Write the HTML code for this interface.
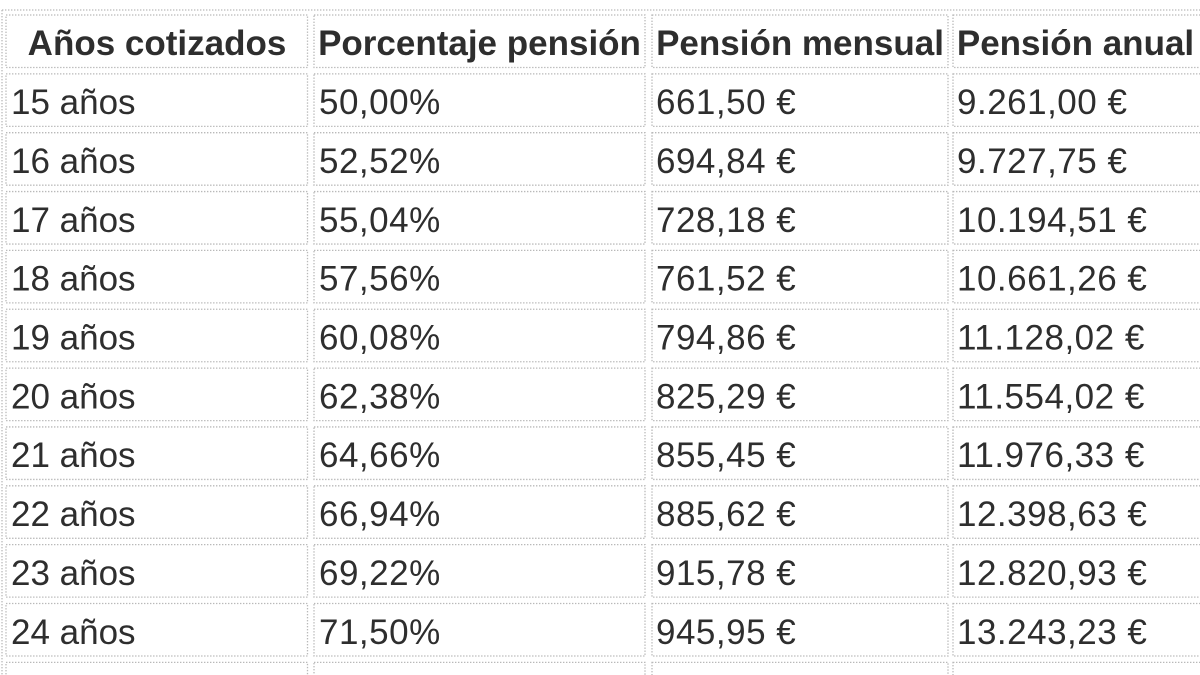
<!DOCTYPE html>
<html><head><meta charset="utf-8"><style>
html,body{margin:0;padding:0;background:#fff;width:1200px;height:675px;overflow:hidden}
svg{display:block;overflow:hidden}
text{font-family:"Liberation Sans",Arial,sans-serif;font-size:35px;fill:#2e2e2e}
.d text{letter-spacing:0.5px}
.d text.c1{letter-spacing:0}
.h{font-weight:bold;text-anchor:middle}
rect,line{fill:none;stroke:#b9b9b9;stroke-width:1.3;stroke-dasharray:1.4 1.6}
</style></head><body>
<svg width="1200" height="675" viewBox="0 0 1200 675" xmlns="http://www.w3.org/2000/svg">
<defs>
<g id="cells">
<rect x="6" y="0" width="301.5" height="52.5"/>
<rect x="314" y="0" width="331" height="52.5"/>
<rect x="652" y="0" width="296" height="52.5"/>
<rect x="953" y="0" width="260" height="52.5"/>
</g>
</defs>
<line x1="2" y1="10" x2="1200" y2="10"/>
<line x1="2" y1="10" x2="2" y2="675"/>

<g transform="translate(0,15)"><use href="#cells"/>
<text class="h" x="157" y="40">Años cotizados</text>
<text class="h" x="479.5" y="40">Porcentaje pensión</text>
<text class="h" x="800" y="40">Pensión mensual</text>
<text class="h" x="1075.5" y="40">Pensión anual</text></g>

<g class="d" transform="translate(0,73.85)"><use href="#cells"/>
<text class="c1" x="11" y="40.3">15 años</text><text x="319" y="40.3">50,00%</text><text x="656" y="40.3">661,50 €</text><text x="957" y="40.3">9.261,00 €</text></g>

<g class="d" transform="translate(0,132.7)"><use href="#cells"/>
<text class="c1" x="11" y="40.3">16 años</text><text x="319" y="40.3">52,52%</text><text x="656" y="40.3">694,84 €</text><text x="957" y="40.3">9.727,75 €</text></g>

<g class="d" transform="translate(0,191.55)"><use href="#cells"/>
<text class="c1" x="11" y="40.3">17 años</text><text x="319" y="40.3">55,04%</text><text x="656" y="40.3">728,18 €</text><text x="957" y="40.3">10.194,51 €</text></g>

<g class="d" transform="translate(0,250.4)"><use href="#cells"/>
<text class="c1" x="11" y="40.3">18 años</text><text x="319" y="40.3">57,56%</text><text x="656" y="40.3">761,52 €</text><text x="957" y="40.3">10.661,26 €</text></g>

<g class="d" transform="translate(0,309.25)"><use href="#cells"/>
<text class="c1" x="11" y="40.3">19 años</text><text x="319" y="40.3">60,08%</text><text x="656" y="40.3">794,86 €</text><text x="957" y="40.3">11.128,02 €</text></g>

<g class="d" transform="translate(0,368.1)"><use href="#cells"/>
<text class="c1" x="11" y="40.3">20 años</text><text x="319" y="40.3">62,38%</text><text x="656" y="40.3">825,29 €</text><text x="957" y="40.3">11.554,02 €</text></g>

<g class="d" transform="translate(0,426.95)"><use href="#cells"/>
<text class="c1" x="11" y="40.3">21 años</text><text x="319" y="40.3">64,66%</text><text x="656" y="40.3">855,45 €</text><text x="957" y="40.3">11.976,33 €</text></g>

<g class="d" transform="translate(0,485.8)"><use href="#cells"/>
<text class="c1" x="11" y="40.3">22 años</text><text x="319" y="40.3">66,94%</text><text x="656" y="40.3">885,62 €</text><text x="957" y="40.3">12.398,63 €</text></g>

<g class="d" transform="translate(0,544.65)"><use href="#cells"/>
<text class="c1" x="11" y="40.3">23 años</text><text x="319" y="40.3">69,22%</text><text x="656" y="40.3">915,78 €</text><text x="957" y="40.3">12.820,93 €</text></g>

<g class="d" transform="translate(0,603.5)"><use href="#cells"/>
<text class="c1" x="11" y="40.3">24 años</text><text x="319" y="40.3">71,50%</text><text x="656" y="40.3">945,95 €</text><text x="957" y="40.3">13.243,23 €</text></g>

<g transform="translate(0,662.35)"><use href="#cells"/></g>
</svg>
</body></html>
